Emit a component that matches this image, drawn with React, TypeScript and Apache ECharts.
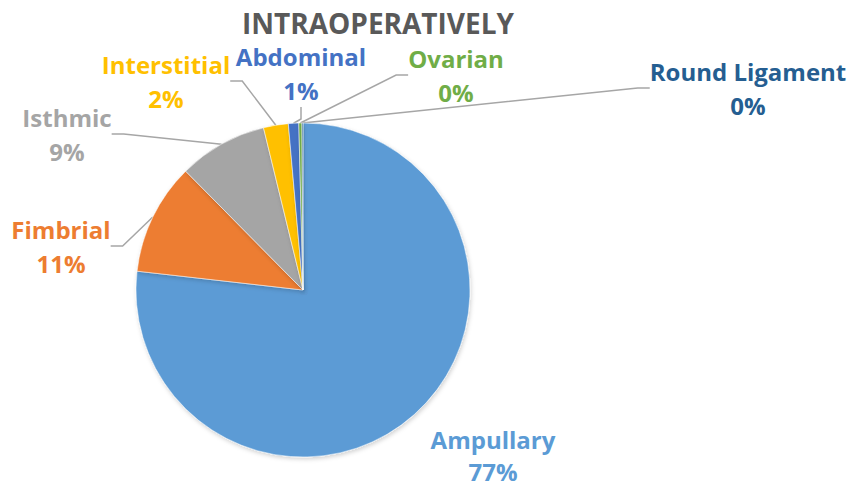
import React, { useEffect, useRef } from "react";
import * as echarts from "echarts";

const categories = ["Ampullary", "Fimbrial", "Isthmic", "Interstitial", "Abdominal", "Ovarian", "Round Ligament"];
const values = [76.8, 10.8, 8.6, 2.4, 1.0, 0.3, 0.1];
const colors = ["#5B9BD5", "#ED7D31", "#A5A5A5", "#FFC000", "#4472C4", "#70AD47", "#255E91"];
// label block centres (x, y) in px
const labelPos: [number, number][] = [
  [493, 455],
  [61, 246],
  [67, 134],
  [166, 81],
  [301, 73],
  [456, 75],
  [748, 88],
];
const labelLineHeight = [32, 34, 34, 34, 34, 34, 34];
const showLine = [false, true, true, true, true, true, true];

export default function App() {
  const ref = useRef<HTMLDivElement>(null);
  useEffect(() => {
    if (!ref.current) return;
    const chart = echarts.init(ref.current, undefined, { renderer: "svg" });
    const total = values.reduce((a, b) => a + b, 0);
    chart.setOption({
      animation: false,
      backgroundColor: "#ffffff",
      title: {
        text: "INTRAOPERATIVELY",
        left: 373,
        top: 4,
        textAlign: "center",
        textStyle: { fontFamily: "Open Sans", fontWeight: "bold", fontSize: 28, color: "#595959" },
      },
      series: [
        {
          type: "pie",
          center: [303, 290],
          radius: 167,
          startAngle: 90,
          clockwise: true,
          avoidLabelOverlap: false,
          itemStyle: {
            borderColor: "#ffffff",
            borderWidth: 0.5,
            shadowBlur: 4,
            shadowOffsetX: 1,
            shadowOffsetY: 2,
            shadowColor: "rgba(0,0,0,0.18)",
          },
          label: {
            show: true,
            position: "outside",
            fontFamily: "Open Sans",
            fontWeight: "bold",
            fontSize: 24,
            lineHeight: 34,
            align: "center",
            formatter: (p: any) => `${p.name}\n${Math.round((p.value / total) * 100)}%`,
          },
          labelLine: {
            show: true,
            length: 10,
            length2: 12,
            lineStyle: { color: "#A6A6A6", width: 1.5 },
          },
          labelLayout: (params: any) => {
            const [x, y] = labelPos[params.dataIndex];
            return { x, y, align: "center", verticalAlign: "middle" };
          },
          data: categories.map((name, i) => ({
            name,
            value: values[i],
            itemStyle: { color: colors[i] },
            label: { color: colors[i], lineHeight: labelLineHeight[i] },
            labelLine: { show: showLine[i] },
          })),
        },
      ],
    });
    return () => chart.dispose();
  }, []);
  return <div ref={ref} style={{ width: 849, height: 488, position: "absolute", left: 0, top: 0 }} />;
}
